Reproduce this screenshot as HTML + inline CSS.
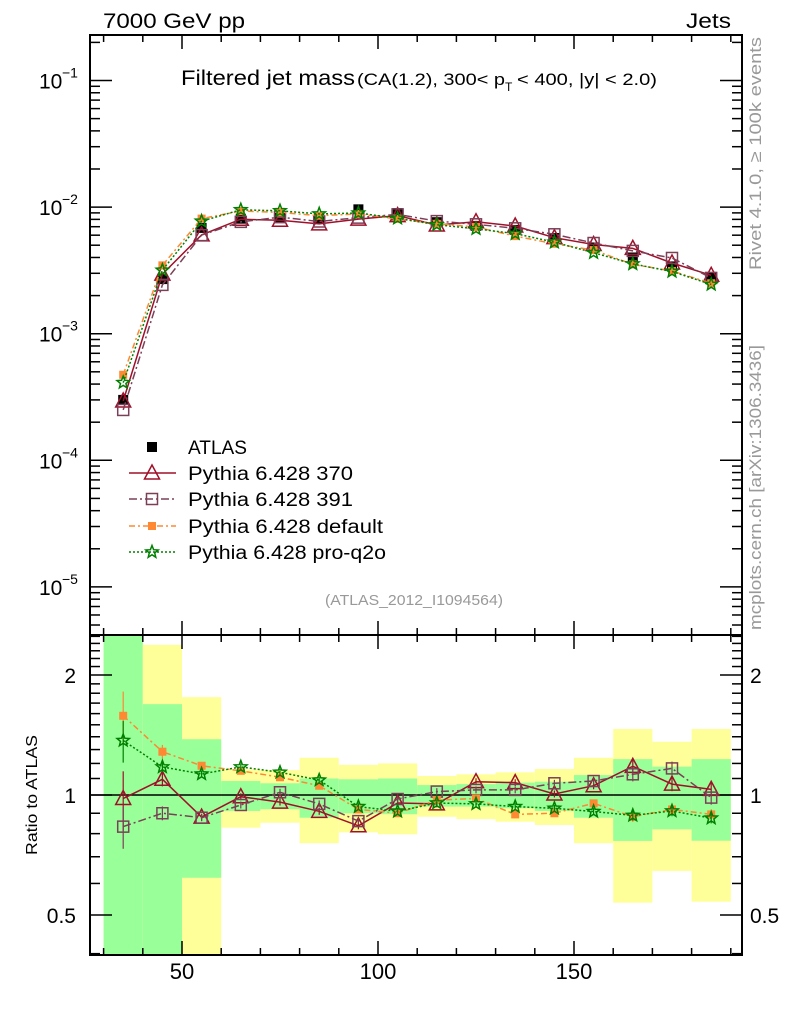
<!DOCTYPE html>
<html><head><meta charset="utf-8"><style>
html,body{margin:0;padding:0;background:#fff;}
svg{display:block;font-family:"Liberation Sans",Arial,sans-serif;}
</style></head><body>
<svg id="chart" width="786" height="1024" viewBox="0 0 786 1024" xmlns="http://www.w3.org/2000/svg">
<defs>
<clipPath id="cm"><rect x="90" y="35" width="652" height="600"/></clipPath>
<clipPath id="cr"><rect x="90" y="635" width="652" height="320"/></clipPath>
</defs>
<g id="bands" clip-path="url(#cr)"></g>
<g id="ticks"></g>
<line x1="90" y1="795" x2="742" y2="795" stroke="#000" stroke-width="1.5"/>
<g id="mainMarks" clip-path="url(#cm)"></g>
<g id="ratioMarks" clip-path="url(#cr)"></g>
<rect x="90" y="35" width="652" height="600" fill="none" stroke="#000" stroke-width="2"/>
<rect x="90" y="635" width="652" height="320" fill="none" stroke="#000" stroke-width="2"/>
<text x="103" y="28" font-size="21" textLength="142" lengthAdjust="spacingAndGlyphs">7000 GeV pp</text>
<text x="686" y="28" font-size="21" textLength="45" lengthAdjust="spacingAndGlyphs">Jets</text>
<text x="181" y="85" font-size="21" textLength="174" lengthAdjust="spacingAndGlyphs">Filtered jet mass</text>
<text x="357" y="85" font-size="17" textLength="148" lengthAdjust="spacingAndGlyphs">(CA(1.2), 300&lt; p</text>
<text x="505" y="91" font-size="12">T</text>
<text x="517" y="85" font-size="17" textLength="140" lengthAdjust="spacingAndGlyphs">&lt; 400, |y| &lt; 2.0)</text>
<text x="325" y="605" font-size="15" fill="#999" textLength="178" lengthAdjust="spacingAndGlyphs">(ATLAS_2012_I1094564)</text>
<text transform="translate(761,270) rotate(-90)" font-size="17" fill="#999" textLength="233" lengthAdjust="spacingAndGlyphs">Rivet 4.1.0, ≥ 100k events</text>
<text transform="translate(761,630) rotate(-90)" font-size="17" fill="#999" textLength="285" lengthAdjust="spacingAndGlyphs">mcplots.cern.ch [arXiv:1306.3436]</text>
<text transform="translate(37,855) rotate(-90)" font-size="16" textLength="120" lengthAdjust="spacingAndGlyphs">Ratio to ATLAS</text>
<g id="legend"></g>
<g id="labels"></g>
</svg>
<script>
// ---- data ----
const xCenters = [35,45,55,65,75,85,95,105,115,125,135,145,155,165,175,185];
const binLo = [30,40,50,60,70,80,90,100,110,120,130,140,150,160,170,180];
const binHi = [40,50,60,70,80,90,100,110,120,130,140,150,160,170,180,190];
const atlasValues = [3.0e-4,2.7e-3,6.85e-3,8.1e-3,8.2e-3,8.1e-3,9.6e-3,8.97e-3,7.6e-3,7.1e-3,6.6e-3,5.7e-3,4.8e-3,4.0e-3,3.4e-3,2.8e-3];
const greenHi = [2.6,1.69,1.38,1.084,1.07,1.10,1.095,1.10,1.059,1.065,1.074,1.08,1.122,1.23,1.178,1.23];
const greenLo = [0.3,0.3,0.62,0.912,0.921,0.877,0.90,0.895,0.935,0.935,0.926,0.912,0.877,0.767,0.82,0.768];
const yellowHi = [2.6,2.38,1.76,1.16,1.155,1.24,1.19,1.20,1.116,1.127,1.14,1.162,1.24,1.464,1.36,1.464];
const yellowLo = [0.3,0.3,0.3,0.828,0.852,0.757,0.806,0.797,0.882,0.87,0.857,0.841,0.757,0.537,0.645,0.54];
const ratio370 = [0.98,1.095,0.88,0.99,0.96,0.91,0.837,0.955,0.95,1.08,1.074,1.006,1.055,1.18,1.065,1.033];
const ratio391 = [0.833,0.90,0.877,0.944,1.016,0.95,0.86,0.977,1.02,1.03,1.03,1.07,1.084,1.127,1.166,0.985];
const ratioDefault = [1.58,1.284,1.184,1.15,1.108,1.055,0.92,0.90,0.971,0.98,0.894,0.90,0.953,0.882,0.92,0.894];
const ratioProQ2o = [1.37,1.176,1.129,1.176,1.14,1.09,0.935,0.91,0.955,0.95,0.935,0.926,0.909,0.889,0.912,0.875];
const err370 = [0.17,0.04,0.02,0.02,0.02,0.02,0.02,0.02,0.02,0.02,0.02,0.02,0.02,0.04,0.04,0.04];
const err391 = [0.12,0.04,0.02,0.02,0.02,0.02,0.02,0.02,0.02,0.02,0.02,0.02,0.02,0.04,0.04,0.04];
const errDefault = [0.15,0.04,0.02,0.02,0.02,0.02,0.02,0.02,0.02,0.02,0.02,0.02,0.02,0.03,0.03,0.03];
const errProQ2o = [0.12,0.03,0.02,0.02,0.02,0.02,0.02,0.02,0.02,0.02,0.02,0.02,0.02,0.03,0.03,0.03];
const xTickLabels = [50,100,150];
const mainTickExps = [-1,-2,-3,-4,-5];
const ratioTickLabels = ["2","1","0.5"];
const ratioTickValues = [2,1,0.5];

// ---- scales ----
const NS="http://www.w3.org/2000/svg";
function X(v){return 182+(v-50)*3.92;}
function YM(v){return 80.5+(-1-Math.log10(v))*126.6;}
function YR(r){return 795-Math.log10(r)*398.7;}
function mk(tag,attrs,parent){const e=document.createElementNS(NS,tag);for(const k in attrs)e.setAttribute(k,attrs[k]);parent.appendChild(e);return e;}

const bands=document.getElementById('bands');
binLo.forEach((lo,i)=>{
  const y1=mk('rect',{x:X(lo),y:YR(yellowHi[i]),width:X(binHi[i])-X(lo),height:YR(yellowLo[i])-YR(yellowHi[i]),fill:'#ffff99'},bands);
  
  
  const g1=mk('rect',{x:X(lo),y:YR(greenHi[i]),width:X(binHi[i])-X(lo),height:YR(greenLo[i])-YR(greenHi[i]),fill:'#99ff99'},bands);
  
  
});

// ticks
const tk=document.getElementById('ticks');
function line(x1,y1,x2,y2,p){mk('line',{x1,y1,x2,y2,stroke:'#000','stroke-width':1.5},p);}
for(let v=30;v<=190;v+=10){
  const x=X(v);const L=(v%50===0)?14:7;
  line(x,35,x,35+L,tk);line(x,635,x,635-L,tk);
  line(x,635,x,635+L,tk);line(x,955,x,955-L,tk);
}
for(let e=-6;e<=-1;e++){
  for(let m=1;m<=9;m++){
    const v=m*Math.pow(10,e);const y=YM(v);
    if(y<35||y>635)continue;
    const L=m===1?22:10;
    line(90,y,90+L,y,tk);line(742,y,742-L,y,tk);
  }
}
for(let k=4;k<=25;k++){
  const r=k/10;const y=YR(r);if(y<635||y>955)continue;
  const L=(k===5||k===10||k===20)?22:10;
  line(90,y,90+L,y,tk);line(742,y,742-L,y,tk);
}

// labels
const lb=document.getElementById('labels');
xTickLabels.forEach(v=>{
  const t=mk('text',{x:X(v),y:979,'font-size':22,'text-anchor':'middle'},lb);t.textContent=v;
  
  
});
mainTickExps.forEach(e=>{
  const y=YM(Math.pow(10,e));
  const t=mk('text',{x:39,y:y+8,'font-size':21},lb);t.textContent='10';
  
  
  const s=mk('text',{x:62,y:y-3,'font-size':14},lb);s.textContent='−'+(-e);
  
  
});
ratioTickValues.forEach((r,i)=>{
  const y=YR(r);
  const t=mk('text',{x:76,y:y+8,'font-size':21,'text-anchor':'end'},lb);t.textContent=ratioTickLabels[i];
  
  
  const t2=mk('text',{x:750,y:y+8,'font-size':21},lb);t2.textContent=ratioTickLabels[i];
  
  
});

// markers
function marker(type,x,y,color,p){
  let e;
  if(type==='tri') e=mk('polygon',{points:`${x},${y-8} ${x-7.5},${y+6} ${x+7.5},${y+6}`,fill:'none',stroke:color,'stroke-width':1.5},p);
  else if(type==='osq') e=mk('rect',{x:x-5.5,y:y-5.5,width:11,height:11,fill:'none',stroke:color,'stroke-width':1.5},p);
  else if(type==='fsq') e=mk('rect',{x:x-4,y:y-4,width:8,height:8,fill:color},p);
  else if(type==='dsq') e=mk('rect',{x:x-5,y:y-5,width:10,height:10,fill:color},p);
  else { let pts=[];for(let k=0;k<10;k++){const a=-Math.PI/2+k*Math.PI/5;const r=k%2?2.8:6.5;pts.push((x+r*Math.cos(a)).toFixed(1)+','+(y+r*Math.sin(a)).toFixed(1));}
    e=mk('polygon',{points:pts.join(' '),fill:'none',stroke:color,'stroke-width':1.5},p);}
  return e;
}
const series=[
  {name:'pythia-370',r:ratio370,err:err370,color:'#a0102a',dash:'',type:'tri',label:'Pythia 6.428 370',w:165},
  {name:'pythia-391',r:ratio391,err:err391,color:'#7b4058',dash:'8,3,2,3',type:'osq',label:'Pythia 6.428 391',w:165},
  {name:'pythia-default',r:ratioDefault,err:errDefault,color:'#ff8833',dash:'6,3,2,3',type:'fsq',label:'Pythia 6.428 default',w:195},
  {name:'pythia-pro-q2o',r:ratioProQ2o,err:errProQ2o,color:'#008000',dash:'2,2',type:'star',label:'Pythia 6.428 pro-q2o',w:198}
];
const mm=document.getElementById('mainMarks'),rm=document.getElementById('ratioMarks');
atlasValues.forEach((v,i)=>{
  const d=marker('dsq',X(xCenters[i]),YM(v),'#000',mm);
  
  
});
series.forEach(s=>{
  const ptsM=xCenters.map((x,i)=>X(x)+','+YM(atlasValues[i]*s.r[i]).toFixed(1)).join(' ');
  const ptsR=xCenters.map((x,i)=>X(x)+','+YR(s.r[i]).toFixed(1)).join(' ');
  const l1=mk('polyline',{points:ptsM,fill:'none',stroke:s.color,'stroke-width':1.5,'stroke-dasharray':s.dash},mm);
  
  
  const l2=mk('polyline',{points:ptsR,fill:'none',stroke:s.color,'stroke-width':1.5,'stroke-dasharray':s.dash},rm);
  
  
  xCenters.forEach((x,i)=>{
    const px=X(x);
    const eb=mk('line',{x1:px,x2:px,y1:YR(s.r[i]*(1+s.err[i])),y2:YR(s.r[i]*(1-s.err[i])),stroke:s.color,'stroke-width':1.2},rm);
    
    
    const m1=marker(s.type,px,YM(atlasValues[i]*s.r[i]),s.color,mm);
    
    
    const m2=marker(s.type,px,YR(s.r[i]),s.color,rm);
    
    
  });
});

// legend
const lg=document.getElementById('legend');
const ly=[447,473,499,526,552];
const a=marker('dsq',152,ly[0],'#000',lg);


const at=mk('text',{x:188,y:ly[0]+7,'font-size':19,textLength:59,lengthAdjust:'spacingAndGlyphs'},lg);at.textContent='ATLAS';


series.forEach((s,i)=>{
  const y=ly[i+1];
  const l=mk('line',{x1:129,x2:176,y1:y,y2:y,stroke:s.color,'stroke-width':1.5,'stroke-dasharray':s.dash},lg);
  
  
  const m=marker(s.type,152,y,s.color,lg);
  
  
  const t=mk('text',{x:188,y:y+7,'font-size':19,textLength:s.w,lengthAdjust:'spacingAndGlyphs'},lg);t.textContent=s.label;
  
  
});
</script>
</body></html>
